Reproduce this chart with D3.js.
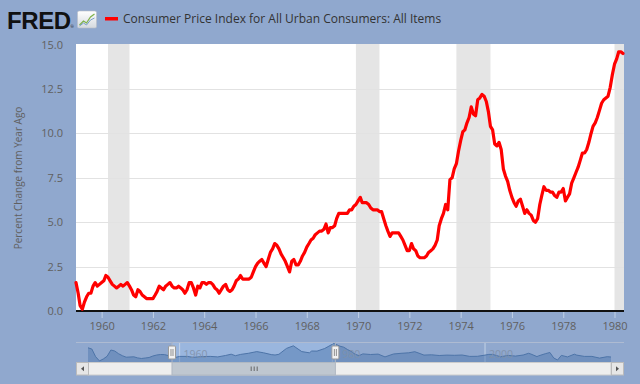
<!DOCTYPE html>
<html>
<head>
<meta charset="utf-8">
<script src="https://cdn.jsdelivr.net/npm/d3@7"></script>
<style>
html,body{margin:0;padding:0;background:#90a8ce;}
svg{display:block;}
text{font-family:"Open Sans","DejaVu Sans",sans-serif;}
</style>
</head>
<body>
<svg id="chart" width="640" height="384"></svg>
<script>
// ---------------- DATA ----------------
const seriesTitle = "Consumer Price Index for All Urban Consumers: All Items";
const yAxisTitle = "Percent Change from Year Ago";
const firstMonth = "1959-01";
// monthly CPI percent change from year ago, Jan 1959 .. May 1980
const cpi1959 = [1.6,1.0,0.3,0.1,0.5,0.8,1.0,1.0,1.4,1.6,1.4,1.5];
const cpi1960 = [1.6,1.7,2.0,1.9,1.7,1.5,1.4,1.3,1.4,1.5,1.4,1.5];
const cpi1961 = [1.6,1.4,1.2,0.9,0.8,1.2,1.1,0.9,0.8,0.7,0.7,0.7];
const cpi1962 = [0.7,0.9,1.1,1.4,1.3,1.2,1.4,1.5,1.6,1.4,1.3,1.3];
const cpi1963 = [1.4,1.3,1.2,1.0,1.2,1.6,1.6,1.3,0.9,1.4,1.3,1.6];
const cpi1964 = [1.6,1.5,1.6,1.6,1.5,1.3,1.2,1.0,1.2,1.4,1.5,1.2];
const cpi1965 = [1.1,1.2,1.4,1.7,1.8,2.0,1.8,1.8,1.8,1.8,1.9,2.2];
const cpi1966 = [2.5,2.7,2.8,2.9,2.7,2.5,2.9,3.3,3.5,3.8,3.7,3.5];
const cpi1967 = [3.2,3.0,2.8,2.5,2.2,2.8,2.9,2.6,2.6,2.8,3.1,3.3];
const cpi1968 = [3.6,3.8,4.0,4.1,4.3,4.4,4.5,4.5,4.6,4.9,4.4,4.7];
const cpi1969 = [4.7,4.8,5.2,5.5,5.5,5.5,5.5,5.5,5.7,5.7,5.9,6.0];
const cpi1970 = [6.2,6.4,6.1,6.1,6.1,6.0,5.8,5.7,5.7,5.7,5.6,5.6];
const cpi1971 = [5.2,4.8,4.5,4.2,4.4,4.4,4.4,4.4,4.2,4.0,3.7,3.4];
const cpi1972 = [3.4,3.8,3.5,3.4,3.1,3.0,3.0,3.0,3.1,3.3,3.4,3.5];
const cpi1973 = [3.7,4.0,4.8,5.2,5.5,6.0,5.7,7.4,7.5,8.0,8.3,9.0];
const cpi1974 = [9.6,10.1,10.2,10.6,10.9,11.5,11.1,11.0,11.9,12.0,12.2,12.1];
const cpi1975 = [11.8,11.2,10.4,10.2,9.4,9.3,9.5,9.1,8.0,7.6,7.3,6.8];
const cpi1976 = [6.4,6.1,5.9,6.2,6.3,5.9,5.5,5.7,5.5,5.4,5.1,5.0];
const cpi1977 = [5.2,6.0,6.5,7.0,6.8,6.8,6.7,6.7,6.5,6.4,6.7,6.7];
const cpi1978 = [6.9,6.2,6.4,6.6,7.2,7.5,7.8,8.1,8.5,8.9,8.9,9.1];
const cpi1979 = [9.5,10.0,10.4,10.6,10.9,11.3,11.7,11.9,12.0,12.1,12.6,13.3];
const cpi1980 = [13.9,14.2,14.6,14.6,14.5];

const recessions = [
  ["1960-04","1961-02"],
  ["1969-12","1970-11"],
  ["1973-11","1975-03"],
  ["1980-01","1980-07"]
];
const yTicks = [0,2.5,5,7.5,10,12.5,15];
const xTickYears = [1960,1962,1964,1966,1968,1970,1972,1974,1976,1978,1980];

// navigator overview series (year, percent)
const navYears = [1948,1948.5,1949,1949.5,1950,1950.5,1951,1951.5,1952,1952.5,1953,1954,1954.5,1955,1955.5,1956,1956.5,1957,1957.5,1958,1958.5,1959,1959.25,1960,1961,1961.75,1963,1964,1965,1966,1966.75,1967.3,1968,1969,1970.1,1971,1972,1972.5,1973,1974,1974.9,1976,1977,1977.3,1978,1979,1980.2,1981,1981.5,1982,1982.5,1983,1983.5,1984,1985,1986,1986.9,1988,1989,1990,1990.8,1991.5,1992,1993,1994,1995,1996,1997,1998,1999,2000,2000.5,2001,2001.9,2002,2003,2004,2005,2005.7,2006,2006.8,2007,2007.9,2008.5,2009,2009.5,2010,2010.8,2011.7,2012,2013,2014,2015,2016,2016.5];
const navValues = [10.2,9.0,1.3,-2.9,-1.0,1.7,8.0,7.0,4.3,2.3,0.8,1.2,0.1,-0.5,0.0,0.5,2.0,3.0,3.5,3.4,2.5,1.5,0.2,1.6,1.6,0.7,1.4,1.6,1.1,2.5,3.8,2.3,3.6,4.7,6.4,5.2,3.4,3.0,3.7,9.6,12.2,6.4,5.2,7.0,6.9,9.5,14.6,11.8,10.8,8.4,6.5,3.7,2.4,4.1,3.5,3.9,1.1,4.0,4.7,5.2,6.3,4.4,2.9,3.2,2.5,2.9,2.7,3.0,1.6,1.7,2.9,3.6,3.6,1.6,1.2,2.6,1.9,3.0,4.7,4.0,1.4,2.1,4.3,5.5,0.0,-2.0,2.6,1.1,3.8,2.9,1.6,1.6,-0.1,1.3,1.0];
const navLabels = [1960,1980,2000];

// ---------------- DRAW ----------------
const cpiValues = [].concat(cpi1959,cpi1960,cpi1961,cpi1962,cpi1963,cpi1964,cpi1965,cpi1966,cpi1967,cpi1968,cpi1969,cpi1970,cpi1971,cpi1972,cpi1973,cpi1974,cpi1975,cpi1976,cpi1977,cpi1978,cpi1979,cpi1980);
const parseM = d3.timeParse("%Y-%m");
const t0 = parseM(firstMonth);
const data = cpiValues.map((v,i)=>({date:d3.timeMonth.offset(t0,i), value:v}));

const svg = d3.select("#chart");
const W = 640, H = 384;
const plot = {left:76, right:624, top:44, bottom:311};

svg.append("rect").attr("width",W).attr("height",H).attr("fill","#90a8ce");

// header: FRED logo
svg.append("text").attr("x",7).attr("y",28.5)
  .style("font-family","'Liberation Sans',Arial,sans-serif").style("font-weight","bold")
  .style("font-size","24px").style("letter-spacing","-0.4px").attr("fill","#111").text("FRED");
svg.append("text").attr("x",70.5).attr("y",28).style("font-size","4px").attr("fill","#111").text("®");
const icon = svg.append("g").attr("transform","translate(77.5,11)");
const grad = svg.append("defs").append("linearGradient").attr("id","ig").attr("x1",0).attr("y1",0).attr("x2",0).attr("y2",1);
grad.append("stop").attr("offset","0").attr("stop-color","#ffffff");
grad.append("stop").attr("offset","1").attr("stop-color","#d5d9de");
icon.append("rect").attr("width",19).attr("height",17).attr("rx",1.5).attr("fill","url(#ig)").attr("stroke","#b8bec6").attr("stroke-width",0.6);
icon.append("path").attr("d","M2,14 L6,10 L9,12 L13,6 L17,3").attr("fill","none").attr("stroke","#7fb24a").attr("stroke-width",1.2);
icon.append("path").attr("d","M2,15 L6,12 L9,14 L13,9 L17,7").attr("fill","none").attr("stroke","#7aa0c8").attr("stroke-width",1);

// legend
svg.append("rect").attr("x",105).attr("y",17).attr("width",13).attr("height",3.5).attr("fill","#ff0000");
svg.append("text").attr("x",123).attr("y",22.5).style("font-size","12px").attr("fill","#333")
  .text(seriesTitle);

// scales
const x = d3.scaleTime()
  .domain([t0, data[data.length-1].date])
  .range([plot.left, 623]);
const y = d3.scaleLinear().domain([0,15]).range([plot.bottom, plot.top+0.7]);

// plot bg
svg.append("rect").attr("x",plot.left).attr("y",plot.top)
  .attr("width",plot.right-plot.left).attr("height",plot.bottom-plot.top).attr("fill","#ffffff");

// recessions
svg.append("g").selectAll("rect").data(recessions).join("rect")
  .attr("x",d=>x(parseM(d[0])))
  .attr("y",plot.top)
  .attr("width",d=>Math.min(plot.right,x(parseM(d[1])))-x(parseM(d[0])))
  .attr("height",plot.bottom-plot.top)
  .attr("fill","#e5e5e5");

// gridlines
svg.append("g").selectAll("line").data(yTicks.filter(v=>v>0 && v<15)).join("line")
  .attr("x1",plot.left).attr("x2",plot.right)
  .attr("y1",d=>Math.round(y(d))+0.5).attr("y2",d=>Math.round(y(d))+0.5)
  .attr("stroke","#e2e2e2").attr("stroke-width",1);

// y axis labels
const yAxis = d3.axisLeft(y).tickValues(yTicks).tickFormat(d3.format(".1f")).tickSize(0).tickPadding(0);
const gy = svg.append("g").attr("transform",`translate(63,0)`).call(yAxis);
gy.select(".domain").remove();
gy.selectAll("text").style("font-size","11px").attr("fill","#606060").style("font-family","'Open Sans',sans-serif");

// y title
svg.append("text").attr("transform","translate(22,178) rotate(-90)").attr("text-anchor","middle")
  .style("font-size","10px").attr("fill","#606060").text(yAxisTitle);

// x axis
const xAxis = d3.axisBottom(x)
  .tickValues(xTickYears.map(yy=>new Date(yy,0,1)))
  .tickFormat(d3.timeFormat("%Y")).tickSize(7).tickPadding(4);
const gx = svg.append("g").attr("transform",`translate(0,${plot.bottom})`).call(xAxis);
gx.select(".domain").remove();
gx.selectAll(".tick line").attr("stroke","#c0d0e6").attr("stroke-width",1);
gx.selectAll("text").style("font-size","11px").attr("fill","#606060").style("font-family","'Open Sans',sans-serif");
svg.append("line").attr("x1",plot.left).attr("x2",plot.right).attr("y1",plot.bottom).attr("y2",plot.bottom)
  .attr("stroke","#111").attr("stroke-width",2);

// main line
const line = d3.line().x(d=>x(d.date)).y(d=>y(d.value)).curve(d3.curveLinear);
svg.append("path").datum(data).attr("d",line)
  .attr("fill","none").attr("stroke","#ff0000").attr("stroke-width",3.2)
  .attr("stroke-linejoin","round").attr("stroke-linecap","round");

// ---------------- NAVIGATOR ----------------
const nav = {left:88, right:611, top:342, bottom:362};
const nx = d3.scaleLinear().domain([1948,2016.5]).range([nav.left,nav.right]);
const ny = d3.scaleLinear().domain([-4,15]).range([nav.bottom,nav.top+1]);
const navData = navYears.map((yy,i)=>({year:yy, value:navValues[i]}));

svg.append("line").attr("x1",76).attr("x2",624).attr("y1",nav.top+0.5).attr("y2",nav.top+0.5)
  .attr("stroke","#aebbd2").attr("stroke-width",1);

// selected range highlight
const selA = nx(1959.0), selB = nx(1980.4);
svg.append("rect").attr("x",selA).attr("y",nav.top+1).attr("width",selB-selA).attr("height",nav.bottom-nav.top-1)
  .attr("fill","#9cb9e2").attr("opacity",0.8);

// nav grid lines
svg.append("g").selectAll("line").data(navLabels).join("line")
  .attr("x1",d=>nx(d)).attr("x2",d=>nx(d)).attr("y1",nav.top+1).attr("y2",nav.bottom)
  .attr("stroke","#c4d2e6").attr("stroke-width",1);

const area = d3.area().x(d=>nx(d.year)).y0(nav.bottom).y1(d=>ny(d.value));
svg.append("path").datum(navData).attr("d",area).attr("fill","#4a74aa").attr("opacity",0.45);
svg.append("path").datum(navData).attr("d",d3.line().x(d=>nx(d.year)).y(d=>ny(d.value)))
  .attr("fill","none").attr("stroke","#4d74a8").attr("stroke-width",1);

svg.append("g").selectAll("text").data(navLabels).join("text")
  .attr("x",d=>nx(d)+4).attr("y",358).style("font-size","10.5px").attr("fill","#8090a8").attr("opacity",0.85)
  .text(d=>d);

// scrollbar
const sb = {top:362.5, h:12.5};
svg.append("rect").attr("x",nav.left).attr("y",sb.top).attr("width",nav.right-nav.left).attr("height",sb.h)
  .attr("fill","#eeeeee").attr("stroke","#cccccc").attr("stroke-width",1);
svg.append("rect").attr("x",selA).attr("y",sb.top).attr("width",selB-selA).attr("height",sb.h)
  .attr("fill","#bfc7d0").attr("stroke","#b0b8c2").attr("stroke-width",1);
const gripX = (selA+selB)/2;
[-3,0,3].forEach(dx=>{
  svg.append("line").attr("x1",gripX+dx+0.5).attr("x2",gripX+dx+0.5).attr("y1",sb.top+4).attr("y2",sb.top+sb.h-4)
    .attr("stroke","#666").attr("stroke-width",1);
});
// buttons
[[76,"left"],[611,"right"]].forEach(([bx,dir])=>{
  svg.append("rect").attr("x",bx+0.5).attr("y",sb.top).attr("width",12).attr("height",sb.h)
    .attr("fill","#e6e6e6").attr("stroke","#bbbbbb").attr("stroke-width",1);
  const cx = bx+6.5, cy = sb.top+sb.h/2;
  const p = dir==="left" ? `M${cx+1.5},${cy-2.5} L${cx-1.5},${cy} L${cx+1.5},${cy+2.5} Z`
                         : `M${cx-1.5},${cy-2.5} L${cx+1.5},${cy} L${cx-1.5},${cy+2.5} Z`;
  svg.append("path").attr("d",p).attr("fill","#555");
});

// handles
[selA,selB].forEach(hx=>{
  svg.append("line").attr("x1",hx).attr("x2",hx).attr("y1",nav.top).attr("y2",nav.bottom)
    .attr("stroke","#aab4c4").attr("stroke-width",1);
  svg.append("rect").attr("x",hx-3.5).attr("y",346).attr("width",7).attr("height",13).attr("rx",1)
    .attr("fill","#f2f2f2").attr("stroke","#999").attr("stroke-width",1);
  [-1,1].forEach(dx=>{
    svg.append("line").attr("x1",hx+dx).attr("x2",hx+dx).attr("y1",349).attr("y2",356)
      .attr("stroke","#777").attr("stroke-width",0.8);
  });
});
</script>
</body>
</html>
